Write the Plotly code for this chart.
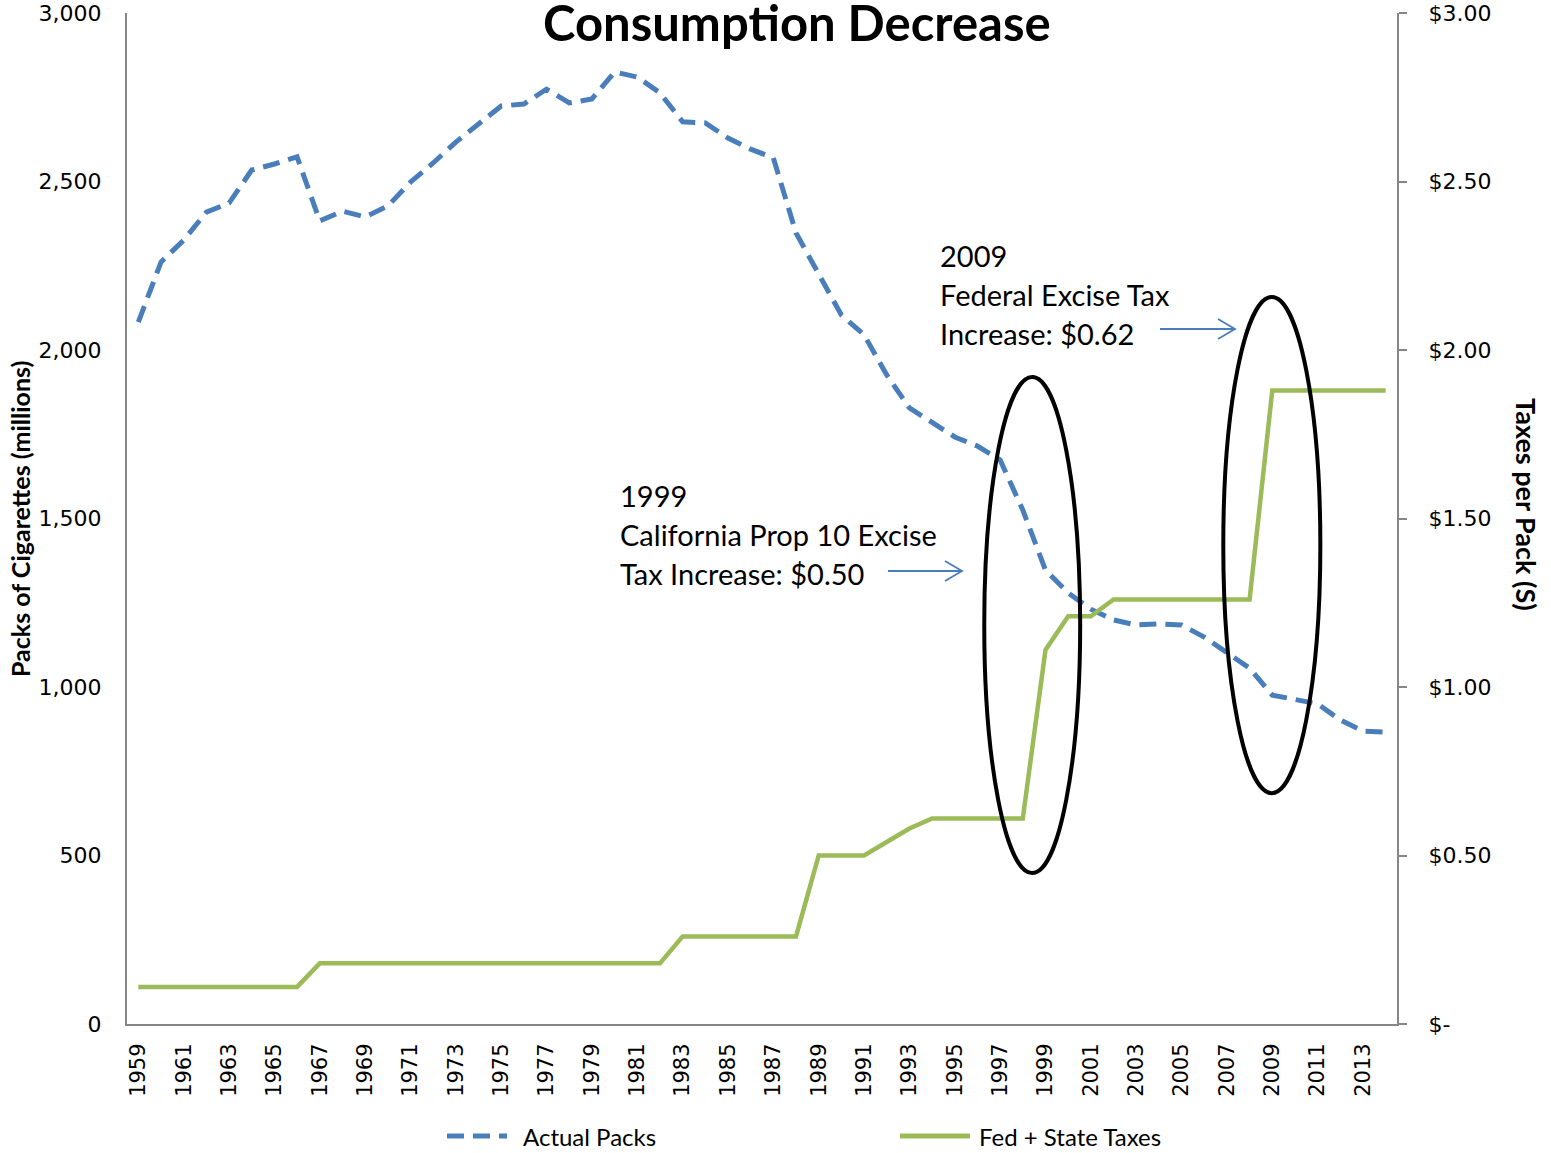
import plotly.graph_objects as go

years = list(range(1959, 2015))
actual_packs = [2083, 2261, 2326, 2409, 2436, 2534, 2552, 2573, 2383, 2412,
                2395, 2427, 2498, 2555, 2617, 2671, 2724, 2730, 2774, 2733,
                2745, 2825, 2810, 2763, 2677, 2674, 2629, 2596, 2570, 2347,
                2223, 2104, 2045, 1926, 1828, 1786, 1742, 1715, 1674, 1525,
                1347, 1279, 1231, 1199, 1184, 1187, 1184, 1148, 1104, 1056,
                976, 964, 950, 902, 869, 866]
fed_state_taxes = [0.11] * 8 + [0.18] * 16 + [0.26] * 6 + [0.50, 0.50, 0.50, 0.54, 0.58, 0.61,
                   0.61, 0.61, 0.61, 0.61, 1.11, 1.21, 1.21, 1.26, 1.26, 1.26, 1.26, 1.26,
                   1.26, 1.26, 1.88, 1.88, 1.88, 1.88, 1.88, 1.88]
x_tick_years = list(range(1959, 2014, 2))
left_ticks = [0, 500, 1000, 1500, 2000, 2500, 3000]
right_ticks = [0, 0.5, 1.0, 1.5, 2.0, 2.5, 3.0]
right_ticktext = ["$-", "$0.50", "$1.00", "$1.50", "$2.00", "$2.50", "$3.00"]
series_names = ["Actual Packs", "Fed + State Taxes"]

# Screen layout (page body margin removed via post_script)
W, H = 1551, 1153
L, R, T, B = 127, 1397, 13, 1024   # plot area in screen pixels

def px(x):
    return (x - L) / (R - L)

def py(y):
    return (B - y) / (B - T)

BLUE = "#4A7EBB"
GREEN = "#9BBB59"
AXIS = "#868686"
TXT = "Lato"
DASH = "17px,9px"

fig = go.Figure()
fig.add_trace(go.Scatter(x=years, y=actual_packs, name=series_names[0], mode="lines",
                         line=dict(color=BLUE, width=5, dash=DASH), yaxis="y"))
fig.add_trace(go.Scatter(x=years, y=fed_state_taxes, name=series_names[1], mode="lines",
                         line=dict(color=GREEN, width=4.5), yaxis="y2"))

tickfont = dict(family="DejaVu Sans", size=22, color="black")
fig.update_layout(
    width=W, height=H,
    margin=dict(l=L, r=W - R, t=T, b=H - B, pad=0, autoexpand=False),
    plot_bgcolor="white", paper_bgcolor="white",
    showlegend=False,
    xaxis=dict(range=[1958.5, 2014.5], tickvals=x_tick_years,
               ticktext=[str(y) for y in x_tick_years], tickangle=-90,
               tickfont=dict(family="DejaVu Sans", size=21, color="black"),
               showgrid=False, zeroline=False, showline=True, linecolor=AXIS, linewidth=2,
               ticks="", ticklabelstandoff=9, automargin=False, ticklabeloverflow="allow"),
    yaxis=dict(range=[0, 3000], tickvals=left_ticks, tickformat=",",
               tickfont=tickfont,
               showgrid=False, zeroline=False, showline=True, linecolor=AXIS, linewidth=2,
               ticks="", ticklabelstandoff=19, automargin=False, ticklabeloverflow="allow"),
    yaxis2=dict(range=[0, 3], overlaying="y", side="right", tickvals=right_ticks,
                ticktext=right_ticktext, tickfont=tickfont,
                showgrid=False, zeroline=False, showline=True, linecolor=AXIS, linewidth=2,
                ticks="outside", ticklen=8, tickcolor=AXIS, tickwidth=2,
                ticklabelstandoff=17, automargin=False, ticklabeloverflow="allow"),
)

annotations = [
    dict(text="<b>Packs of Cigarettes (millions)</b>", x=px(20), y=py(519), xref="paper",
         yref="paper", textangle=-90, showarrow=False,
         font=dict(family=TXT, size=25, color="black"), xanchor="center", yanchor="middle"),
    dict(text="<b>Taxes per Pack (S)</b>", x=px(1527), y=py(504), xref="paper", yref="paper",
         textangle=90, showarrow=False, font=dict(family=TXT, size=27, color="black"),
         xanchor="center", yanchor="middle"),
    dict(text="<b>Consumption Decrease</b>", x=px(797), y=py(22), xref="paper", yref="paper",
         showarrow=False, font=dict(family=TXT, size=49, color="black"),
         xanchor="center", yanchor="middle"),
]
note_1999 = ["1999", "California Prop 10 Excise", "Tax Increase: $0.50"]
note_2009 = ["2009", "Federal Excise Tax", "Increase: $0.62"]
for i, line in enumerate(note_1999):
    annotations.append(dict(text=line, x=px(618), y=py(496 + 38.5 * i), xref="paper", yref="paper",
                            showarrow=False, xanchor="left", yanchor="middle",
                            font=dict(family=TXT, size=29, color="black")))
for i, line in enumerate(note_2009):
    annotations.append(dict(text=line, x=px(938), y=py(256 + 38.5 * i), xref="paper", yref="paper",
                            showarrow=False, xanchor="left", yanchor="middle",
                            font=dict(family=TXT, size=29, color="black")))

# Legend (drawn manually to match long symbols)
legend_items = [(series_names[0], BLUE, DASH, 447, 507, 521),
                (series_names[1], GREEN, "solid", 900, 970, 977)]
shapes = []
LEG_Y = 1136
for name, color, dash, s0, s1, tx in legend_items:
    shapes.append(dict(type="line", xref="paper", yref="paper", x0=px(s0), x1=px(s1),
                       y0=py(LEG_Y), y1=py(LEG_Y),
                       line=dict(color=color, width=5, dash=dash if dash != "solid" else None)))
    annotations.append(dict(text=name, x=px(tx), y=py(LEG_Y), xref="paper", yref="paper",
                            showarrow=False, xanchor="left", yanchor="middle",
                            font=dict(family=TXT, size=24, color="black")))
fig.update_layout(annotations=annotations)

# Ellipses around the tax jumps
ellipses = [(1996.3, 2000.53, 448, 1920), (2006.84, 2011.12, 685, 2157)]
for x0, x1, y0, y1 in ellipses:
    shapes.append(dict(type="circle", xref="x", yref="y", x0=x0, x1=x1, y0=y0, y1=y1,
                       line=dict(color="black", width=4), layer="above"))

def arrow_path(xs, xe, y):
    return (f"M {px(xs)},{py(y)} L {px(xe)},{py(y)} "
            f"M {px(xe - 17)},{py(y - 10)} L {px(xe)},{py(y)} L {px(xe - 17)},{py(y + 10)}")

for xs, xe, y in [(888, 962, 571), (1160, 1235, 329)]:
    shapes.append(dict(type="path", xref="paper", yref="paper", path=arrow_path(xs, xe, y),
                       line=dict(color=BLUE, width=1.8)))
fig.update_layout(shapes=shapes)

fig.write_html("out.html", config={"displayModeBar": False},
               post_script="document.body.style.margin='0';document.body.style.overflow='hidden';")
